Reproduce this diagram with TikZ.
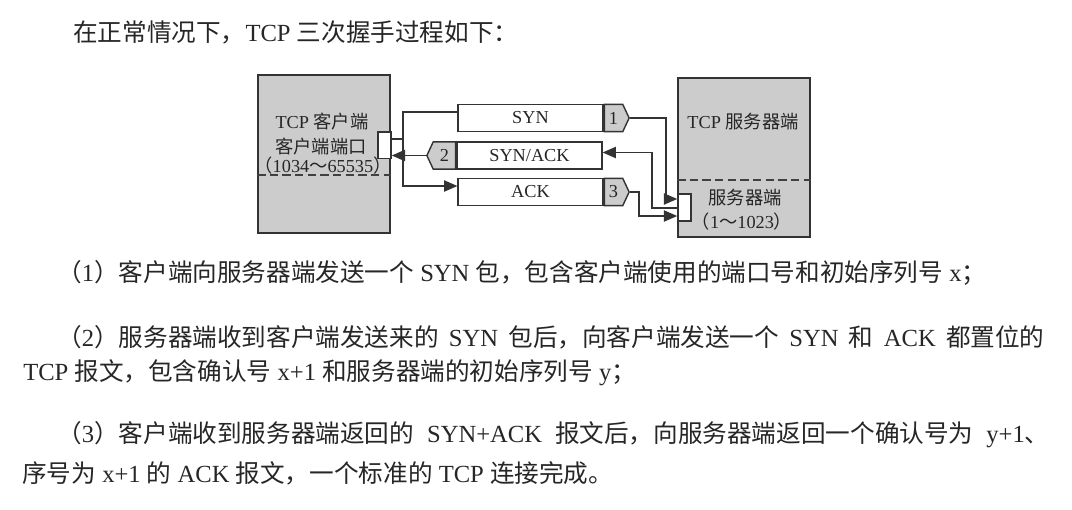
\documentclass[tikz,border=0pt]{standalone}
\usepackage{fontspec}
\setmainfont{Liberation Serif}
\newfontfamily\cjk{Noto Sans CJK SC}
\usetikzlibrary{arrows.meta,shapes.symbols,positioning}
\newcommand\zh[1]{{\cjk #1}}

\begin{document}
\begin{tikzpicture}[x=0.025cm, y=-0.025cm,
  host/.style={draw=black!80, line width=1.3pt, fill=black!20, minimum width=3.3cm, minimum height=3.95cm},
  port/.style={draw=black!80, line width=1pt, fill=white, minimum width=0.33cm, minimum height=0.66cm, inner sep=0},
  pkt/.style={draw=black!80, line width=1pt, fill=white, minimum width=3.62cm, minimum height=0.68cm, inner sep=0, font=\fontsize{13}{15}\selectfont, text=black!85},
  tab/.style={signal, draw=black!80, line width=1pt, fill=black!20, minimum width=0.62cm, minimum height=0.68cm, inner sep=0, signal pointer angle=130, font=\fontsize{13}{15}\selectfont, text=black!85},
  wire/.style={draw=black!80, line width=0.9pt},
  tip/.style={-{Triangle[length=3.3mm,width=2.8mm]}},
  sep/.style={draw=black!75, line width=1.2pt, dash pattern=on 6pt off 3pt},
  lbl/.style={inner sep=0, font=\fontsize{13}{15}\selectfont, text=black!85},
  body/.style={anchor=west, inner sep=0, font=\fontsize{17.5}{20}\selectfont, text=black!85}]
  \useasboundingbox (0,0) rectangle (1072,509);

  \node[body] (intro) at (73,32) {\zh{在正常情况下，}TCP \zh{三次握手过程如下：}};

  % hosts
  \node[host] (client) at (324,154) {};
  \node[host, minimum height=3.98cm] (server) at (744,157.5) {};
  \coordinate (cdash) at (0,175);
  \coordinate (sdash) at (0,180);
  \draw[sep] (client.west |- cdash) -- (client.east |- cdash);
  \draw[sep] (server.west |- sdash) -- (server.east |- sdash);
  \node[lbl] (ctitle) at (322,122) {TCP \zh{客户端}};
  \node[lbl] (cname) at (321,147) {\zh{客户端端口}};
  \node[lbl] (crange) at (323,166) {\zh{（}1034\zh{～}65535\zh{）}};
  \node[lbl] (stitle) at (743,122) {TCP \zh{服务器端}};
  \node[lbl] (sname) at (745,198) {\zh{服务器端}};
  \node[lbl] (srange) at (742,222) {\zh{（}1\zh{～}1023\zh{）}};
  \node[port] (cport) at (384.5,145) {};
  \node[port, minimum height=0.68cm] (sport) at (684.5,207.5) {};

  % packets
  \node[pkt] (syn) at (530.5,118) {SYN};
  \node[tab, signal to=east, right=0pt of syn] (n1) {1};
  \node[pkt] (synack) at (529.5,155.5) {SYN/ACK};
  \node[tab, signal to=west, left=0pt of synack, minimum width=0.72cm] (n2) {2};
  \node[pkt] (ack) at (530.5,192) {ACK};
  \node[tab, signal to=east, right=0pt of ack] (n3) {3};

  % client side
  \coordinate (cjoin) at (403,139);
  \draw[wire] ([yshift=.15cm]syn.west) -| (cjoin) -- (cjoin -| cport.east);
  \draw[wire, tip] (cjoin) |- ([yshift=.15cm]ack.west);
  \draw[wire, tip] (n2.west) -- (n2.west -| cport.east);
  % server side
  \coordinate (s1) at (666,199);
  \coordinate (s2) at (652,208);
  \coordinate (s3) at (639,216);
  \draw[wire, tip] (n1.east) -| (s1) -- (s1 -| sport.west);
  \draw[wire, tip] (s2 -| sport.west) -- (s2) |- ([yshift=.075cm]synack.east);
  \draw[wire, tip] (n3.east) -| (s3) -- (s3 -| sport.west);

  \node[body] (step1) at (57,273) {\zh{（}1\zh{）客户端向服务器端发送一个} SYN \zh{包，包含客户端使用的端口号和初始序列号} x\zh{；}};
  \node[body] (step2) at (57,337) {\makebox[24.675cm][s]{\zh{（}2\zh{）服务器端收到客户端发送来的} SYN \zh{包后，向客户端发送一个} SYN \zh{和} ACK \zh{都置位的}}};
  \node[body] (step2b) at (23,373) {TCP \zh{报文，包含确认号} x+1 \zh{和服务器端的初始序列号} y\zh{；}};
  \node[body] (step3) at (57,435) {\makebox[24.8cm][s]{\zh{（}3\zh{）客户端收到服务器端返回的} SYN+ACK \zh{报文后，向服务器端返回一个确认号为} y+1\zh{、}}};
  \node[body] (step3b) at (22,473) {\zh{序号为} x+1 \zh{的} ACK \zh{报文，一个标准的} TCP \zh{连接完成。}};
\end{tikzpicture}
\end{document}
